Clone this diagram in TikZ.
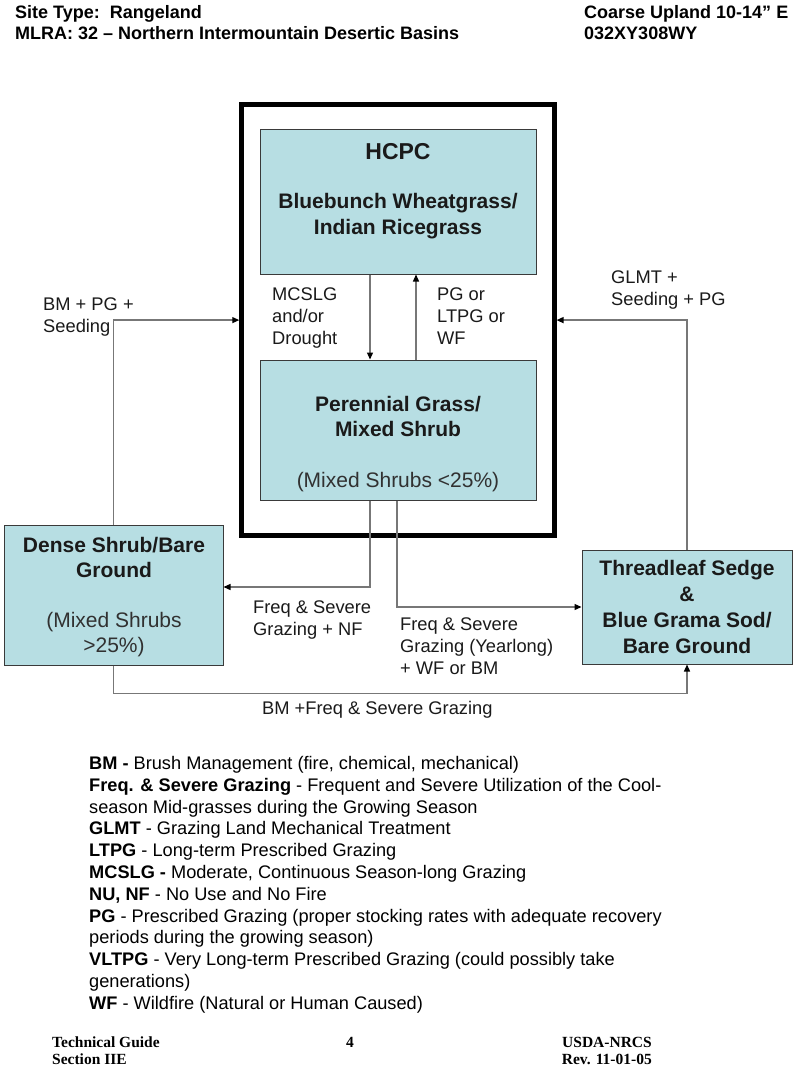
\documentclass[tikz,border=0pt]{standalone}
\usepackage{fontspec}
\setmainfont{Liberation Sans}
\newfontfamily\hdrfont{Liberation Sans}
\newfontfamily\ftrfont{Liberation Serif}
\usetikzlibrary{arrows.meta}
\definecolor{boxfill}{HTML}{B7DEE3}
\definecolor{boxline}{HTML}{3A3A3A}
\definecolor{connline}{HTML}{777777}
\definecolor{txt}{HTML}{1A1A1A}
\begin{document}
\begin{tikzpicture}[x=1pt,y=-1pt,
  stbox/.style={draw=boxline, fill=boxfill, line width=1pt, inner sep=0pt},
  statebox/.style={draw=black, line width=5pt, inner sep=0pt},
  boxtitle/.style={font=\fontsize{23}{27}\selectfont\bfseries, text=txt, inner sep=0pt},
  boxtxt/.style={font=\fontsize{21}{26}\selectfont\bfseries, text=txt, align=center, inner sep=0pt},
  boxsub/.style={font=\fontsize{21}{25}\selectfont, text=txt!90, align=center, inner sep=0pt},
  lbl/.style={font=\fontsize{18.3}{22}\selectfont, text=txt, align=left, inner sep=0pt, anchor=north west},
  conn/.style={draw=connline, line width=1.3pt, -{Triangle[length=7pt,width=6pt,color=black]}},
  hdr/.style={font=\hdrfont\fontsize{18}{21}\selectfont\bfseries, text=black, inner sep=0pt, anchor=north west, align=left},
  ftr/.style={font=\ftrfont\fontsize{15.5}{17}\selectfont\bfseries, text=black, inner sep=0pt}
]
\fill[white] (0,0) rectangle (800,1075);
\useasboundingbox (0,0) rectangle (800,1075);

% header
\node[hdr] (hdrL) at (15,5) {Site Type:\ \ Rangeland\\MLRA: 32 – Northern Intermountain Desertic Basins};
\node[hdr] (hdrR) at (584,5) {Coarse Upland 10-14” E\\032XY308WY};

% state boxes
\node[statebox, minimum width=312.3pt, minimum height=430.7pt] (state) at (397.9,320.1) {};
\node[stbox, minimum width=276pt, minimum height=144pt] (hcpc) at (398,202) {};
\node[stbox, minimum width=276pt, minimum height=140pt] (pgms) at (398,430) {};
\node[stbox, minimum width=219pt, minimum height=140pt] (dense) at (113.5,595) {};
\node[stbox, minimum width=210pt, minimum height=114pt] (thread) at (687,607) {};

% box texts
\node[boxtitle] (hcpcT) at (398,152) {HCPC};
\node[boxtxt] (hcpcN) at (398,216.5) {Bluebunch Wheatgrass/\\Indian Ricegrass};
\node[boxtxt, font=\fontsize{21}{25}\selectfont\bfseries] (pgmsN) at (398,416.5) {Perennial Grass/\\Mixed Shrub};
\node[boxsub] (pgmsS) at (398,482) {(Mixed Shrubs <25\%)};
\node[boxtxt, font=\fontsize{21}{25}\selectfont\bfseries] (denseN) at (114,557.5) {Dense Shrub/Bare\\Ground};
\node[boxsub] (denseS) at (114,634.5) {(Mixed Shrubs\\>25\%)};
\node[boxtxt] (threadN) at (687,607) {Threadleaf Sedge\\\&\\Blue Grama Sod/\\Bare Ground};

% connectors
\draw[conn] ([xshift=-28pt]hcpc.south) -- ([xshift=-28pt]pgms.north);
\draw[conn] ([xshift=18pt]pgms.north) -- ([xshift=18pt]hcpc.south);
\draw[conn] (dense.north) |- (state.west);
\draw[conn] (thread.north) |- (state.east);
\draw[conn] ([xshift=-28pt]pgms.south) |- ([yshift=8pt]dense.east);
\draw[conn] ([xshift=-1pt]pgms.south) |- (thread.west);
\draw[conn] (dense.south) -- ++(0,28) -| (thread.south);

% connector labels
\node[lbl] (l1) at (272,288) {MCSLG\\and/or\\Drought};
\node[lbl] (l2) at (437,288) {PG or\\LTPG or\\WF};
\node[lbl] (l3) at (43,298) {BM + PG +\\Seeding};
\node[lbl] (l4) at (611,271) {GLMT +\\Seeding + PG};
\node[lbl] (l5) at (253,601) {Freq \& Severe\\Grazing + NF};
\node[lbl] (l6) at (400,618) {Freq \& Severe\\Grazing (Yearlong)\\+ WF or BM};
\node[lbl] (l7) at (262,701) {BM +Freq \& Severe Grazing};

% legend
\node[font=\fontsize{18.2}{21.8}\selectfont, text=black, align=left, inner sep=0pt, anchor=north west] (legend) at (89,756) {%
\textbf{BM -} Brush Management (fire, chemical, mechanical)\\
\textbf{Freq. \& Severe Grazing} - Frequent and Severe Utilization of the Cool-\\
season Mid-grasses during the Growing Season\\
\textbf{GLMT} - Grazing Land Mechanical Treatment\\
\textbf{LTPG} - Long-term Prescribed Grazing\\
\textbf{MCSLG -} Moderate, Continuous Season-long Grazing\\
\textbf{NU, NF} - No Use and No Fire\\
\textbf{PG} - Prescribed Grazing (proper stocking rates with adequate recovery\\
periods during the growing season)\\
\textbf{VLTPG} - Very Long-term Prescribed Grazing (could possibly take\\
generations)\\
\textbf{WF} - Wildfire (Natural or Human Caused)};

% footer
\node[ftr, anchor=north west, align=left] (ftL) at (52,1037) {Technical Guide\\Section IIE};
\node[ftr, anchor=north] (ftC) at (350,1037) {4};
\node[ftr, anchor=north east, align=right] (ftR) at (652,1037) {USDA-NRCS\\Rev. 11-01-05};
\end{tikzpicture}
\end{document}
